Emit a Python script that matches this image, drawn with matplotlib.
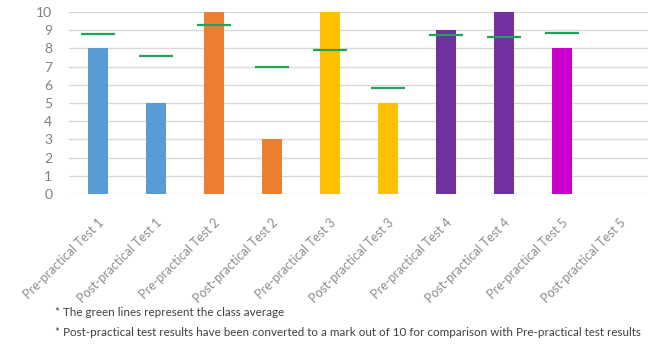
import matplotlib.pyplot as plt
import numpy as np

# test names along the x axis
tests = ['Pre-practical Test 1', 'Post-practical Test 1',
         'Pre-practical Test 2', 'Post-practical Test 2',
         'Pre-practical Test 3', 'Post-practical Test 3',
         'Pre-practical Test 4', 'Post-practical Test 4',
         'Pre-practical Test 5', 'Post-practical Test 5']
# student marks (out of 10), no post test 5 mark
marks = [8, 5, 10, 3, 10, 5, 9, 10, 8, np.nan]
# class averages (green lines)
class_avg = [8.8, 7.6, 9.3, 7.0, 7.9, 5.8, 8.75, 8.65, 8.85, np.nan]
bar_colors = ['#5B9BD5', '#5B9BD5', '#ED7D31', '#ED7D31', '#FFC000',
              '#FFC000', '#7030A0', '#7030A0', '#CC00CC', '#CC00CC']

plt.rcParams['font.family'] = ['Lato', 'DejaVu Sans']

fig = plt.figure(figsize=(6.48, 3.44), dpi=100)
ax = fig.add_axes([69 / 648, 150 / 344, 580 / 648, 182 / 344])

x = np.arange(len(tests))
ax.bar(x, marks, width=0.33, color=bar_colors, zorder=3)
ax.hlines(class_avg, x - 0.3, x + 0.3, color='#1FA35A', lw=1.6, zorder=4)

ax.set_xlim(-0.5, len(tests) - 0.5)
ax.set_ylim(0, 10)
ax.set_yticks(range(0, 11))
ax.yaxis.grid(True, color='#D9D9D9', lw=1, zorder=0)
for s in ax.spines.values():
    s.set_visible(False)
ax.tick_params(length=0)
ax.tick_params(axis='y', labelsize=10, labelcolor='#808080', pad=12)
ax.set_xticks(x)
ax.set_xticklabels(tests, rotation=45, ha='right', rotation_mode='anchor',
                   fontsize=9, color='#8C8C8C')
ax.tick_params(axis='x', pad=16)

fig.text(55 / 648, 1 - 313 / 344, '* The green lines represent the class average',
         fontsize=8.4, color='#404040', va='center')
fig.text(55 / 648, 1 - 333 / 344,
         '* Post-practical test results have been converted to a mark out of 10 '
         'for comparison with Pre-practical test results',
         fontsize=8.4, color='#404040', va='center')

fig.savefig('out.png', dpi=100)
